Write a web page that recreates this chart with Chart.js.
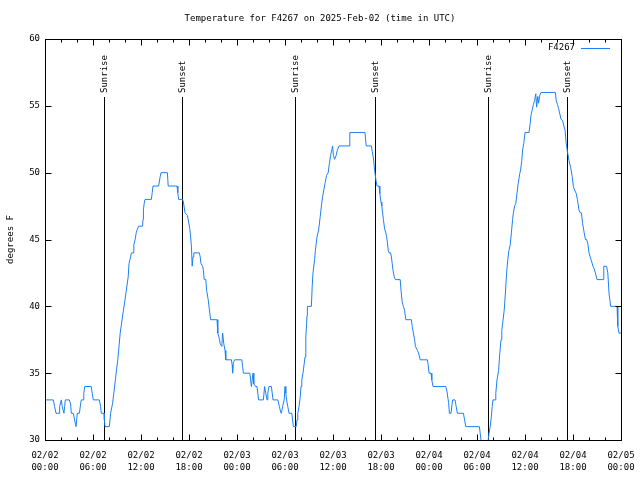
<!DOCTYPE html>
<html>
<head>
<meta charset="utf-8">
<script src="https://cdn.jsdelivr.net/npm/chart.js@4.4.1/dist/chart.umd.min.js"></script>
<style>
  html, body { margin: 0; padding: 0; background: #fff; }
  #wrap { width: 640px; height: 480px; }
</style>
</head>
<body>
<div id="wrap"><canvas id="chart" width="640" height="480"></canvas></div>
<script>
// ── Data (hours since 02/02 00:00 UTC, degrees F) ───────────

const hours = [
  0, 1.04, 1.2, 1.375, 1.75, 1.83, 2.04, 2.15, 2.37, 2.45, 2.54, 3.04, 3.2, 3.29, 3.54, 3.7, 3.875, 4.04,
  4.3, 4.45, 4.54, 4.75, 4.85, 4.96, 5.79, 5.9, 6.04, 6.79, 6.95, 7.04, 7.375, 7.42, 7.5, 8.04,
  8.2, 8.45, 8.6, 8.8, 8.95, 9.1, 9.4, 9.75, 10.0, 10.4, 10.5, 10.7, 10.8, 11.0, 11.1, 11.3, 11.4, 11.5, 11.7,
  12.2, 12.25, 12.3, 12.4, 12.5, 13.3, 13.4, 13.5, 14.2, 14.4, 14.5, 15.3, 15.4, 16.5, 16.6, 16.7, 17.2,
  17.3, 17.5, 17.8, 17.9, 18.1, 18.2, 18.3, 18.4, 18.5, 18.6, 19.3, 19.4, 19.5, 19.7, 19.8, 19.9, 20.1,
  20.2, 20.4, 20.6, 20.7, 21.5, 21.6, 21.75, 21.9, 22.1, 22.2, 22.35, 22.5, 22.6, 23.3, 23.4, 23.45, 23.55, 23.7,
  24.6, 24.7, 24.8, 25.6, 25.7, 25.8, 26.0, 26.1, 26.3, 26.5, 26.7, 27.3, 27.45, 27.6, 27.75, 27.85, 28.0, 28.3,
  28.5, 29.1, 29.3, 29.45, 29.55, 29.7, 29.9, 30.0, 30.1, 30.2, 30.35, 30.5, 30.85, 30.95, 31.05, 31.4,
  31.5, 31.6, 31.75, 31.9, 32.0, 32.1, 32.25, 32.5, 32.6, 32.7, 32.75, 32.8, 33.3, 33.4, 33.5, 33.7, 33.8,
  34.0, 34.2, 34.4, 34.55, 34.7, 34.85, 35.0, 35.2, 35.4, 35.55, 35.7, 35.85, 35.95, 36.05, 36.2, 36.4, 36.55,
  36.75, 38.0, 38.1, 40.0, 40.15, 40.8, 40.9, 41.05, 41.2, 41.4, 41.5, 41.75, 41.85, 42.0, 42.1, 42.3, 42.45,
  42.6, 42.7, 42.8, 42.9, 43.0, 43.2, 43.3, 43.4, 43.5, 43.65, 43.8, 44.4, 44.5, 44.65, 44.8, 44.95, 45.1,
  45.8, 45.9, 46.05, 46.2, 46.3, 46.55, 46.7, 46.9, 47.8, 47.9, 48.0, 48.25, 48.35, 48.5, 50.1, 50.25, 50.45,
  50.55, 50.75, 50.95, 51.25, 51.4, 51.55, 52.3, 52.45, 52.6, 54.3, 54.4, 54.5, 54.6, 55.3, 55.4, 55.5, 55.65,
  55.75, 55.9, 56.0, 56.3, 56.35, 56.5, 56.7, 56.85, 57.0, 57.1, 57.3, 57.4, 57.55, 57.7, 57.85, 58.0, 58.15,
  58.3, 58.45, 58.55, 58.7, 58.85, 59.0, 59.15, 59.35, 59.45, 59.6, 59.7, 59.85, 60.0, 60.5, 60.65, 60.75,
  60.9, 61.05, 61.2, 61.35, 61.45, 61.6, 61.7, 61.85, 62.0, 63.8, 63.9, 64.05, 64.2, 64.35, 64.5, 64.7, 64.85,
  65.0, 65.15, 65.3, 65.5, 65.7, 65.9, 66.05, 66.2, 66.4, 66.55, 66.75, 66.9, 67.05, 67.2, 67.4, 67.55, 67.7,
  67.85, 68.0, 68.15, 68.3, 68.5, 68.65, 68.8, 69.0, 69.8, 69.85, 70.2, 70.35, 70.5, 70.7, 71.5, 71.6, 71.75, 72.0
];

const temps = [
  33, 33, 32.5, 32, 32, 32.5, 33, 32.5, 32, 32.5, 33, 33, 32.7, 32, 32, 31.5, 31, 32,
  32, 32.7, 33, 33, 33.5, 34, 34, 33.5, 33, 33, 32.5, 32, 32, 31.5, 31, 31,
  32, 32.75, 33.5, 34.5, 35.3, 36, 38, 39.5, 40.5, 42.2, 43.2, 43.7, 44, 44, 44.6, 45.1, 45.5, 45.7, 46,
  46, 46.5, 47.2, 47.7, 48, 48, 48.5, 49, 49, 49.7, 50, 50, 49, 49, 48.5, 48, 48,
  47.8, 47.0, 46.8, 46.5, 45.8, 45.2, 44.5, 43.0, 43.7, 44, 44, 43.7, 43.2, 43.0, 42.7, 42.0, 42.0,
  41.2, 40.5, 39.5, 39.0, 39.0, 38.0, 37.7, 37.2, 37.0, 38.0, 37.2, 36.7, 36.0, 36.0, 35.6, 35.0, 35.8, 36.0,
  36, 35.5, 35, 35, 34.5, 34, 35, 34.2, 34, 34, 33, 33, 34, 33.5, 33, 33.5, 34, 34,
  33, 33, 32.5, 32.1, 32, 32.5, 33, 34, 33.5, 33, 32.5, 32, 32, 31.5, 31, 31,
  31.5, 32, 32.5, 33.2, 34, 34.5, 35, 36.2, 37.7, 38.7, 39.3, 40, 40, 41.5, 42.5, 43.5, 44.2,
  45.2, 45.7, 46.7, 47.5, 48.2, 48.7, 49.2, 49.8, 50.0, 50.7, 51.3, 51.7, 52.0, 51.3, 51.0, 51.3, 51.7,
  52, 52, 53, 53, 52, 52, 51.6, 51.1, 50.2, 49.3, 49, 49, 48.45, 47.8, 47.5, 46.5, 45.8,
  45.5, 45.2, 44.8, 44.2, 44, 44, 43.7, 43.2, 42.7, 42.2, 42, 42, 41.2, 40.3, 40, 39.7, 39,
  39, 38.5, 38, 37.5, 37, 36.7, 36.5, 36, 36, 35.6, 35, 35, 34.5, 34, 34, 33.6, 32.8,
  32, 32, 33, 33, 32.5, 32, 32, 31.5, 31, 31, 30.5, 30, 29, 29, 30, 30.5, 31,
  31.5, 32.5, 33, 33, 33.5, 34.5, 35.2, 36.5, 37.5, 38.2, 39.2, 39.7, 41, 42.5, 43.5, 44.2, 44.6,
  45.5, 46.5, 47, 47.5, 47.7, 48.45, 49.2, 49.95, 50.2, 50.9, 51.7, 52.2, 53, 53, 53.7, 54.3,
  54.7, 55.1, 55.4, 55.9, 54.9, 55.7, 55.2, 55.8, 56, 56, 55.4, 55.1, 54.8, 54.4, 54.0, 53.9, 53.5,
  53.2, 52.2, 51.6, 50.9, 50.4, 49.7, 48.95, 48.7, 48.45, 48, 47.2, 47, 47, 46.2, 45.5, 45, 45,
  44.7, 44, 43.7, 43.4, 43, 42.8, 42.5, 42, 42, 43, 43, 42.5, 41, 40, 40, 38.5, 38, 38
];

const sunHours  = [7.37, 17.12, 31.3, 41.25, 55.37, 65.25];
const sunLabels = ['Sunrise', 'Sunset', 'Sunrise', 'Sunset', 'Sunrise', 'Sunset'];

const xTickDates = ['02/02', '02/02', '02/02', '02/02', '02/03', '02/03', '02/03', '02/03',
                    '02/04', '02/04', '02/04', '02/04', '02/05'];
const xTickTimes = ['00:00', '06:00', '12:00', '18:00', '00:00', '06:00', '12:00', '18:00',
                    '00:00', '06:00', '12:00', '18:00', '00:00'];
const yTicks = [30, 35, 40, 45, 50, 55, 60];

const seriesName = 'F4267';
const titleText  = 'Temperature for F4267 on 2025-Feb-02 (time in UTC)';
const yTitle     = 'degrees F';

// ── Style ───────────────────────────────────────────────────

const FONT      = '"DejaVu Sans Mono", "Liberation Mono", monospace';
const LINE_BLUE = '#1a80f5';

// ── Frame plugin: border, inward ticks, sun lines, titles, key ──

const framePlugin = {
  id: 'frame',
  beforeDatasetsDraw(chart) {
    const { ctx, chartArea: a, scales: { x } } = chart;
    ctx.save();
    ctx.strokeStyle = '#000';
    ctx.lineWidth = 1;
    ctx.fillStyle = '#000';
    ctx.font = '9px ' + FONT;
    sunHours.forEach((h, i) => {
      const px = Math.round(x.getPixelForValue(h)) + 0.5;
      ctx.beginPath();
      ctx.moveTo(px, 97);
      ctx.lineTo(px, a.bottom);
      ctx.stroke();
      ctx.save();
      ctx.translate(px, 93);
      ctx.rotate(-Math.PI / 2);
      ctx.textAlign = 'left';
      ctx.textBaseline = 'middle';
      ctx.fillText(sunLabels[i], 0, 0);
      ctx.restore();
    });
    ctx.restore();
  },
  afterDraw(chart) {
    const { ctx, chartArea: a, scales: { x, y } } = chart;
    const L = Math.round(a.left) + 0.5, R = Math.round(a.right) + 0.5;
    const T = Math.round(a.top) + 0.5,  B = Math.round(a.bottom) + 0.5;
    ctx.save();
    ctx.strokeStyle = '#000';
    ctx.lineWidth = 1;
    ctx.beginPath();
    // x ticks, major every 6 h, minor every 2 h, top and bottom
    for (let h = 0; h <= 72; h += 2) {
      const px = Math.round(x.getPixelForValue(h)) + 0.5;
      const len = h % 6 === 0 ? 6 : 3;
      ctx.moveTo(px, B); ctx.lineTo(px, B - len);
      ctx.moveTo(px, T); ctx.lineTo(px, T + len);
    }
    // y ticks, left and right
    yTicks.forEach(v => {
      const py = Math.round(y.getPixelForValue(v)) + 0.5;
      ctx.moveTo(L, py); ctx.lineTo(L + 6, py);
      ctx.moveTo(R, py); ctx.lineTo(R - 6, py);
    });
    ctx.stroke();
    ctx.strokeRect(L, T, R - L, B - T);

    ctx.fillStyle = '#000';
    ctx.font = '9px ' + FONT;
    ctx.textAlign = 'center';
    ctx.textBaseline = 'middle';
    ctx.fillText(titleText, 320, 19);

    ctx.save();
    ctx.translate(11, (a.top + a.bottom) / 2);
    ctx.rotate(-Math.PI / 2);
    ctx.fillText(yTitle, 0, 0);
    ctx.restore();

    // key
    ctx.textAlign = 'right';
    ctx.fillText(seriesName, 575, 48);
    ctx.strokeStyle = LINE_BLUE;
    ctx.beginPath();
    ctx.moveTo(581, 48.5);
    ctx.lineTo(610, 48.5);
    ctx.stroke();
    ctx.restore();
  }
};

// ── Chart ───────────────────────────────────────────────────

Chart.defaults.color = '#000';
Chart.defaults.font.family = FONT;
Chart.defaults.font.size = 9;

new Chart(document.getElementById('chart'), {
  type: 'line',
  data: {
    datasets: [{
      label: seriesName,
      data: hours.map((h, i) => ({ x: h, y: temps[i] })),
      borderColor: LINE_BLUE,
      borderWidth: 1,
      pointRadius: 0,
      tension: 0,
      fill: false
    }]
  },
  options: {
    responsive: false,
    animation: false,
    devicePixelRatio: 1,
    layout: { padding: { top: 39, right: 19, bottom: 0, left: 0 } },
    plugins: {
      legend:  { display: false },
      title:   { display: false },
      tooltip: { enabled: false }
    },
    scales: {
      x: {
        type: 'linear',
        min: 0,
        max: 72,
        grid:   { display: false, drawTicks: false },
        border: { display: false },
        ticks: {
          stepSize: 6,
          autoSkip: false,
          maxRotation: 0,
          padding: 10,
          font: { size: 9, lineHeight: 1.3 },
          callback: v => {
            const i = Math.round(v / 6);
            return [xTickDates[i], xTickTimes[i]];
          }
        },
        afterFit: s => { s.height = 40; s.paddingLeft = 0; s.paddingRight = 0; }
      },
      y: {
        min: 30,
        max: 60,
        grid:   { display: false, drawTicks: false },
        border: { display: false },
        ticks: { stepSize: 5, padding: 5, font: { size: 9 } },
        afterFit: s => { s.width = 45; s.paddingTop = 0; s.paddingBottom = 0; }
      }
    }
  },
  plugins: [framePlugin]
});
</script>
</body>
</html>
